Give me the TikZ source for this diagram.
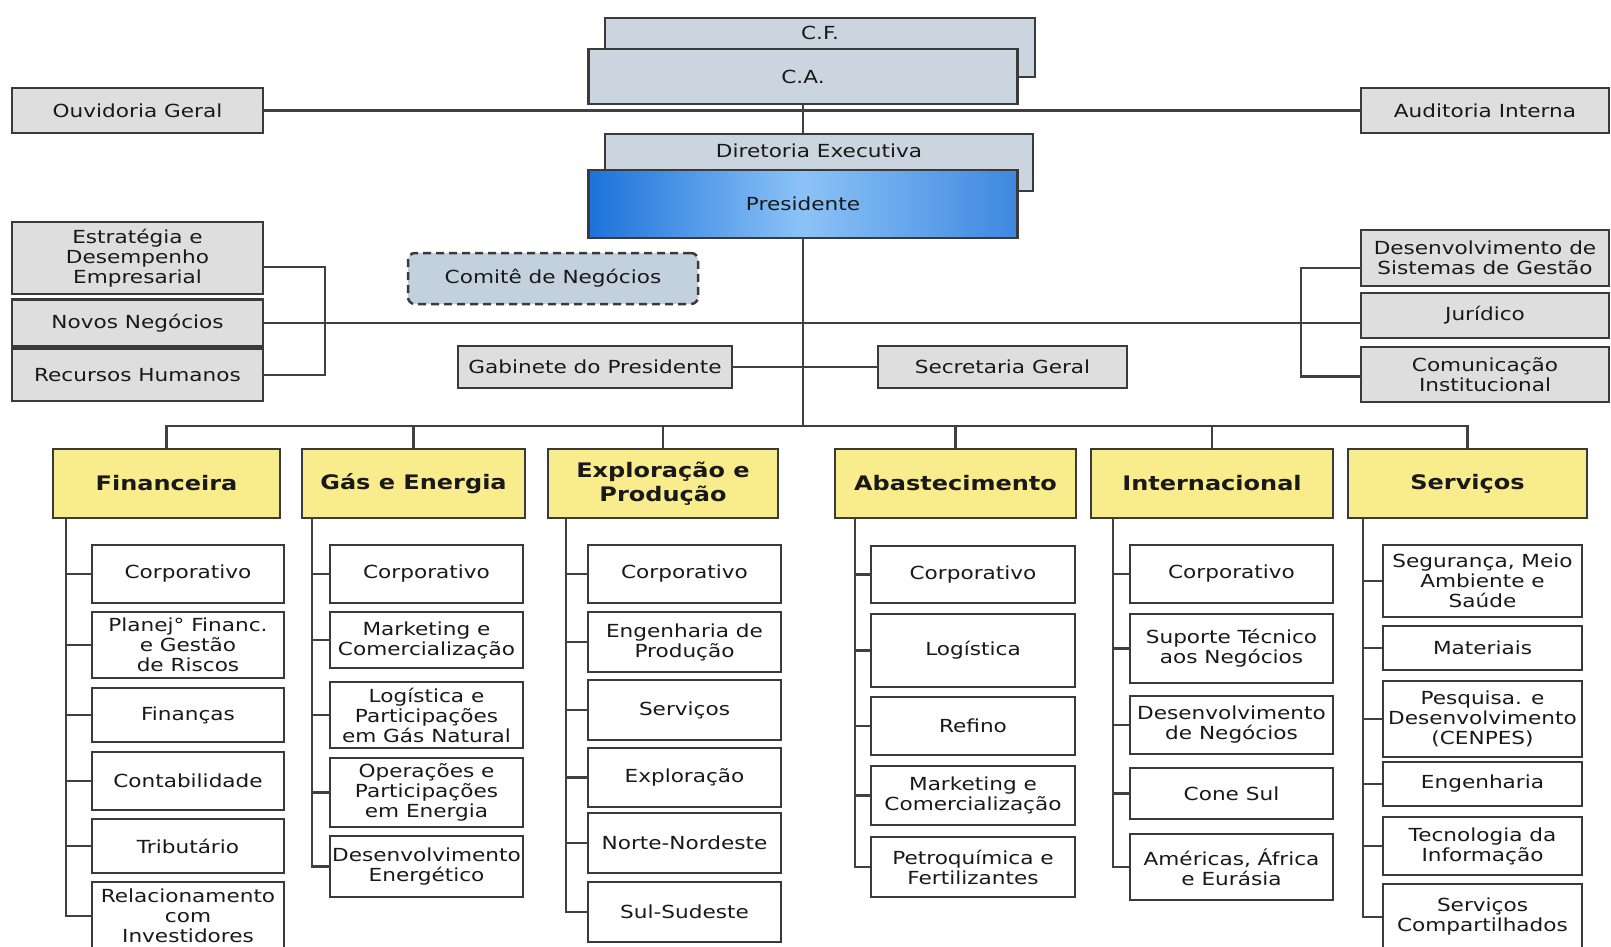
\documentclass[tikz,border=0pt]{standalone}
\usepackage{fontspec}
\setmainfont{DejaVu Sans}[FakeStretch=1.2]
\usepackage{tikz}

\definecolor{boxline}{HTML}{3A3A3A}
\definecolor{linkgray}{HTML}{404040}
\definecolor{staffgray}{HTML}{DEDEDE}
\definecolor{boardblue}{HTML}{CBD5DF}
\definecolor{comiteblue}{HTML}{C3D1DE}
\definecolor{headyellow}{HTML}{F8EC8C}
\definecolor{presdark}{HTML}{1C72DA}
\definecolor{preslight}{HTML}{8CC3F7}

\begin{document}
\begin{tikzpicture}[x=1pt,y=-1pt,
    every node/.style={inner sep=0pt, outer sep=0pt, align=center, text=black!90,
        font=\fontsize{18}{20}\selectfont},
    box/.style={draw=boxline, line width=2.5pt},
    staff/.style={box, fill=staffgray},
    board/.style={box, fill=boardblue},
    head/.style={box, fill=headyellow, minimum height=69,
        font=\fontsize{20}{24}\selectfont\bfseries},
    unit/.style={box, fill=white},
    link/.style={draw=linkgray, line width=2.5pt}]

    \fill[white] (0,0) rectangle (1611,946);
    \useasboundingbox (0,0) rectangle (1611,946);

    % conselhos e diretoria
    \node[board, minimum width=430, minimum height=59,
        label={[anchor=north, yshift=-8]north:C.F.}] (cf) at (820,47.5) {};
    \node[board, minimum width=429, minimum height=55] (ca) at (803,76.5) {C.A.};
    \node[staff, minimum width=251, minimum height=45] (ouv) at (137.5,110.5) {Ouvidoria Geral};
    \node[staff, minimum width=248, minimum height=45] (aud) at (1485,110.5) {Auditoria Interna};
    \node[board, minimum width=428, minimum height=57,
        label={[anchor=north, yshift=-10]north:Diretoria Executiva}] (dir) at (819,162.5) {};
    \node[box, minimum width=429, minimum height=68, left color=presdark,
        right color=presdark!85!white, middle color=preslight] (pres) at (803,204) {Presidente};
    \node[box, dash pattern=on 8pt off 5pt, rounded corners=7, fill=comiteblue,
        minimum width=290, minimum height=51] (com) at (553,278.5) {Comitê de Negócios};

    % areas de apoio
    \node[staff, minimum width=251, minimum height=72] (est) at (137.5,258) {Estratégia e\\Desempenho\\Empresarial};
    \node[staff, minimum width=251, minimum height=47] (nn) at (137.5,323) {Novos Negócios};
    \node[staff, minimum width=251, minimum height=52] (rh) at (137.5,375) {Recursos Humanos};
    \node[staff, minimum width=248, minimum height=56] (dsg) at (1485,258) {Desenvolvimento de\\Sistemas de Gestão};
    \node[staff, minimum width=248, minimum height=45] (jur) at (1485,315.5) {Jurídico};
    \node[staff, minimum width=248, minimum height=55] (cmi) at (1485,374.5) {Comunicação\\Institucional};
    \node[staff, minimum width=274, minimum height=42] (gab) at (595,367) {Gabinete do Presidente};
    \node[staff, minimum width=249, minimum height=42] (sec) at (1002.5,367) {Secretaria Geral};

    % diretorias
    \node[head, minimum width=227] (fin) at (166.5,483.5) {Financeira};
    \node[head, minimum width=223] (gas) at (413.5,483.5) {Gás e Energia};
    \node[head, minimum width=230] (ep) at (663,483.5) {Exploração e\\Produção};
    \node[head, minimum width=241] (ab) at (955.5,483.5) {Abastecimento};
    \node[head, minimum width=242] (intl) at (1212,483.5) {Internacional};
    \node[head, minimum width=239] (serv) at (1467.5,483.5) {Serviços};

    % Financeira
    \node[unit, minimum width=192, minimum height=58] (f1) at (188,574) {Corporativo};
    \node[unit, minimum width=192, minimum height=66] (f2) at (188,645) {Planej° Financ.\\e Gestão\\de Riscos};
    \node[unit, minimum width=192, minimum height=54] (f3) at (188,715) {Finanças};
    \node[unit, minimum width=192, minimum height=58] (f4) at (188,781) {Contabilidade};
    \node[unit, minimum width=192, minimum height=54] (f5) at (188,846) {Tributário};
    \node[unit, minimum width=192, minimum height=68] (f6) at (188,916) {Relacionamento\\com\\Investidores};

    % Gas e Energia
    \node[unit, minimum width=193, minimum height=58] (g1) at (426.5,574) {Corporativo};
    \node[unit, minimum width=193, minimum height=56] (g2) at (426.5,640) {Marketing e\\Comercialização};
    \node[unit, minimum width=193, minimum height=66] (g3) at (426.5,715) {Logística e\\Participações\\em Gás Natural};
    \node[unit, minimum width=193, minimum height=69] (g4) at (426.5,792.5) {Operações e\\Participações\\em Energia};
    \node[unit, minimum width=193, minimum height=61] (g5) at (426.5,866.5) {Desenvolvimento\\Energético};

    % Exploracao e Producao
    \node[unit, minimum width=193, minimum height=58] (e1) at (684.5,574) {Corporativo};
    \node[unit, minimum width=193, minimum height=60] (e2) at (684.5,642) {Engenharia de\\Produção};
    \node[unit, minimum width=193, minimum height=60] (e3) at (684.5,710) {Serviços};
    \node[unit, minimum width=193, minimum height=59] (e4) at (684.5,777.5) {Exploração};
    \node[unit, minimum width=193, minimum height=60] (e5) at (684.5,843) {Norte-Nordeste};
    \node[unit, minimum width=193, minimum height=60] (e6) at (684.5,912) {Sul-Sudeste};

    % Abastecimento
    \node[unit, minimum width=204, minimum height=57] (a1) at (973,574.5) {Corporativo};
    \node[unit, minimum width=204, minimum height=73] (a2) at (973,650.5) {Logística};
    \node[unit, minimum width=204, minimum height=58] (a3) at (973,726) {Refino};
    \node[unit, minimum width=204, minimum height=59] (a4) at (973,795.5) {Marketing e\\Comercialização};
    \node[unit, minimum width=204, minimum height=60] (a5) at (973,867) {Petroquímica e\\Fertilizantes};

    % Internacional
    \node[unit, minimum width=203, minimum height=58] (i1) at (1231.5,574) {Corporativo};
    \node[unit, minimum width=203, minimum height=69] (i2) at (1231.5,648.5) {Suporte Técnico\\aos Negócios};
    \node[unit, minimum width=203, minimum height=58] (i3) at (1231.5,725) {Desenvolvimento\\de Negócios};
    \node[unit, minimum width=203, minimum height=51] (i4) at (1231.5,793.5) {Cone Sul};
    \node[unit, minimum width=203, minimum height=66] (i5) at (1231.5,867) {Américas, África\\e Eurásia};

    % Servicos
    \node[unit, minimum width=199, minimum height=72] (s1) at (1482.5,581) {Segurança, Meio\\Ambiente e\\Saúde};
    \node[unit, minimum width=199, minimum height=44] (s2) at (1482.5,648) {Materiais};
    \node[unit, minimum width=199, minimum height=76] (s3) at (1482.5,719) {Pesquisa. e\\Desenvolvimento\\(CENPES)};
    \node[unit, minimum width=199, minimum height=44] (s4) at (1482.5,784) {Engenharia};
    \node[unit, minimum width=199, minimum height=58] (s5) at (1482.5,846) {Tecnologia da\\Informação};
    \node[unit, minimum width=199, minimum height=66] (s6) at (1482.5,917) {Serviços\\Compartilhados};

    % ligacoes do topo
    \draw[link] (ouv.east) -- (aud.west);
    \draw[link] (ca.south) -- (dir.north -| ca.south);
    \coordinate (bus) at (803,426);
    \draw[link] (pres.south) -- (bus);
    \coordinate (lb) at (325,323);
    \coordinate (rb) at (1301,323);
    \draw[link] (nn.east) -- (nn.east -| jur.west);
    \draw[link] ([yshift=-9pt]est.east) -| (lb) |- (rh.east);
    \draw[link] ([yshift=-10pt]dsg.west) -| (rb) |- ([yshift=-2pt]cmi.west);
    \draw[link] (gab.east) -- (sec.west);

    % barramento das diretorias
    \draw[link] (fin.north) |- (bus) -| (serv.north);
    \foreach \h in {gas,ep,ab,intl}
        \draw[link] (\h.north) -- (\h.north |- bus);

    % ramos
    \coordinate (finS) at (66,518);
    \coordinate (gasS) at (312,518);
    \coordinate (epS) at (566,518);
    \coordinate (abS) at (855,518);
    \coordinate (intlS) at (1113,518);
    \coordinate (servS) at (1363,518);
    \draw[link] (finS) |- (f6.west);
    \foreach \i in {1,...,5} \draw[link] (f\i.west -| finS) -- (f\i.west);
    \draw[link] (gasS) |- (g5.west);
    \foreach \i in {1,...,4} \draw[link] (g\i.west -| gasS) -- (g\i.west);
    \draw[link] (epS) |- (e6.west);
    \foreach \i in {1,...,5} \draw[link] (e\i.west -| epS) -- (e\i.west);
    \draw[link] (abS) |- (a5.west);
    \foreach \i in {1,...,4} \draw[link] (a\i.west -| abS) -- (a\i.west);
    \draw[link] (intlS) |- (i5.west);
    \foreach \i in {1,...,4} \draw[link] (i\i.west -| intlS) -- (i\i.west);
    \draw[link] (servS) |- (s6.west);
    \foreach \i in {1,...,5} \draw[link] (s\i.west -| servS) -- (s\i.west);
\end{tikzpicture}
\end{document}
